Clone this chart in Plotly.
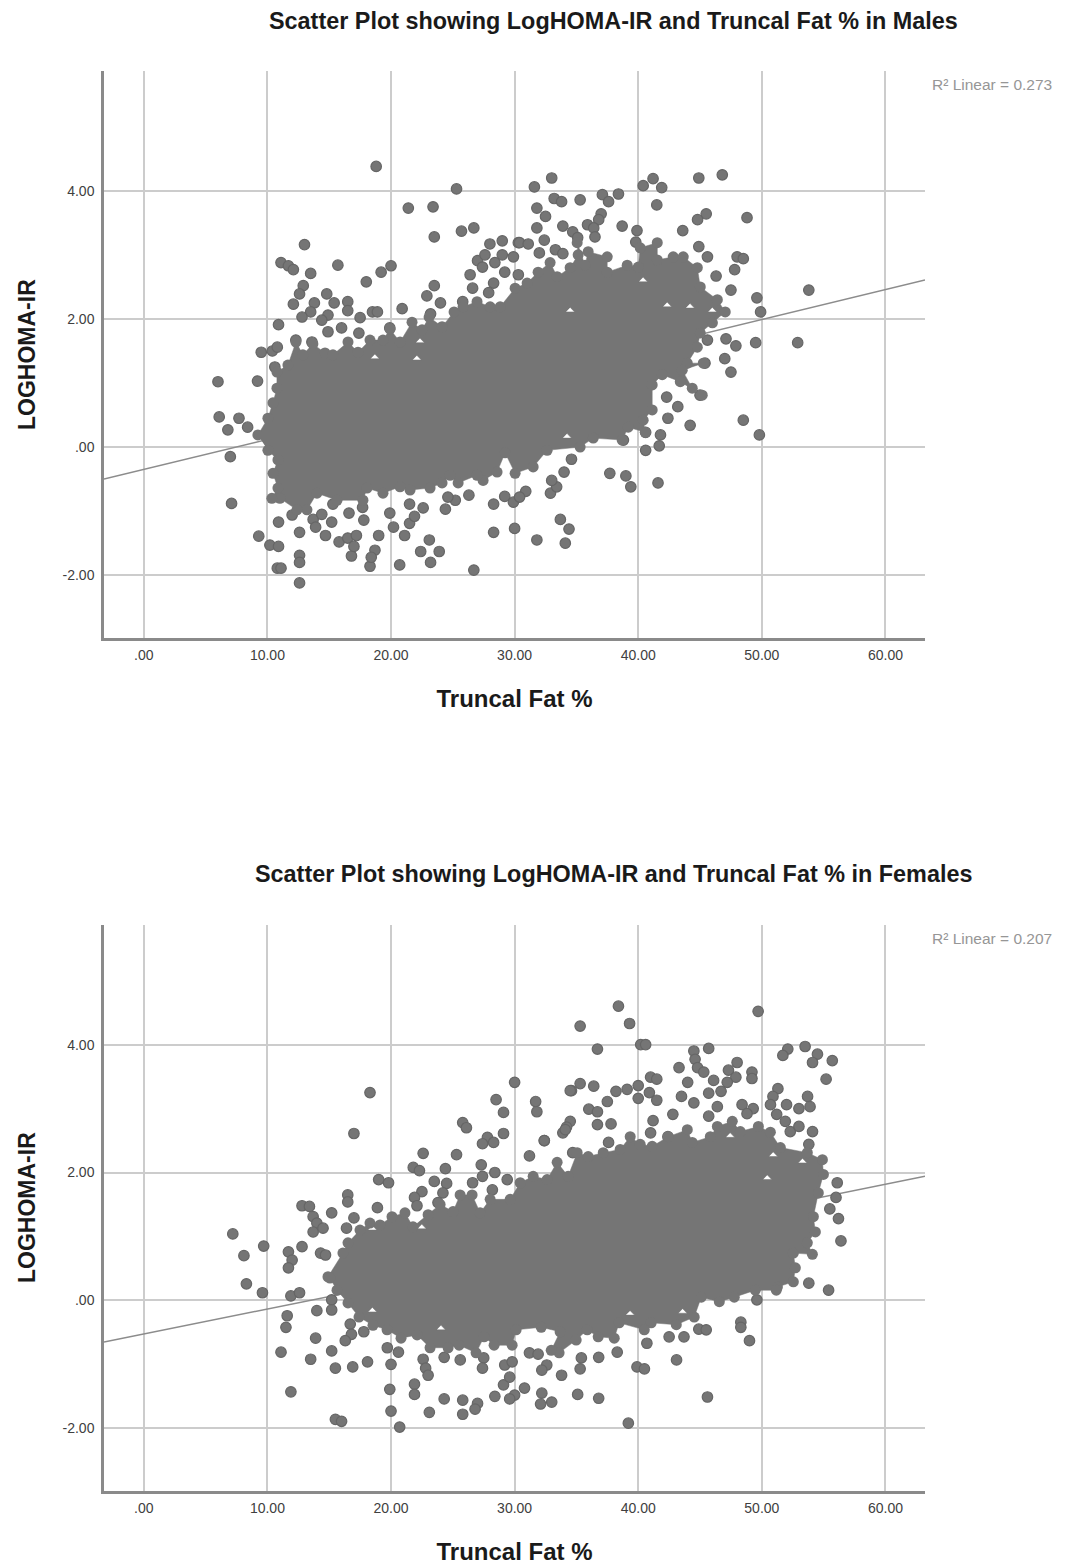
import plotly.graph_objects as go

male_region_x = [9.23,10.04,10.45,10.77,10.77,11.66,12.31,12.87,13.68,14.66,15.3,16.52,17.33,18.3,19.35,19.92,20.73,21.7,22.51,23.08,24.13,25.1,25.83,26.96,28.02,28.83,30.04,31.01,31.9,32.87,33.44,34.49,35.14,35.06,35.7,35.95,37.49,37.49,39.11,40,40.16,41.54,41.54,42.83,43.64,44.78,45.02,46.4,47.04,46,45.02,44.78,43.97,45.26,43.56,44.37,45.18,43.4,41.94,41.13,41.13,40.4,40.57,39.19,38.7,36.36,35.3,32.63,31.5,30.04,29.23,28.58,27.45,26.96,25.43,24.78,24.13,23.16,21.54,20.73,19.35,18.06,17.73,15.63,14.01,13.2,12.39,11.01,10.36,10.85,10.45,10.85,10.04]
male_region_y = [0.19,0.45,0.69,0.92,1.17,1.28,1.64,1.44,1.61,1.47,1.44,1.64,1.48,1.67,1.67,1.84,1.64,1.95,1.83,2.03,1.88,2.11,2.19,2.27,2.19,2.19,2.48,2.56,2.73,2.88,2.66,2.8,3.0,3.19,2.84,3.05,2.97,2.73,2.84,2.81,3.11,3.19,2.92,2.97,2.97,2.8,2.5,2.3,2.11,1.94,1.78,1.56,1.31,1.31,1.2,0.92,0.81,1.02,1.13,0.97,0.58,0.42,0.23,0.31,0.11,0.14,0.0,-0.05,-0.31,-0.41,-0.09,-0.39,-0.52,-0.44,-0.56,-0.44,-0.56,-0.64,-0.67,-0.62,-0.72,-0.64,-0.83,-0.83,-0.72,-0.98,-0.98,-0.8,-0.8,-0.64,-0.41,-0.2,-0.05]
male_gap_x = [22.35,18.7,22.1,42.35,44.2,34.5,40.4,46,34.25]
male_gap_y = [1.63,1.38,1.36,2.19,2.17,2.11,2.58,2.11,0.14]

male_x = [18.8,25.3,21.4,23.4,23.5,25.7,26.7,13.0,11.1,11.7,12.1,13.5,15.7,20,19.2,18,23.5,22.9,12.9,12.6,14.8,12.1,13.8,15.4,16.5,16.5,13.5,12.8,14.9,14.4,17.5,18.5,18.9,20.9,10.9,16,17.4,14.9,19.9,24,25.8,23.2,26.4,26.6,27,27.4,27.6,28,29,30.3,28.3,27.9,9.5,10.4,10.8,6.0,9.2,6.1,7.7,6.8,8.4,10.6,12.3,13.6,29,28.4,29.2,30.3,29.9,
33,31.6,33.2,33.8,35.3,31.8,32.5,31.8,32.4,30.4,31.1,32,33.3,33.9,37.1,37.6,38.4,40.4,41.2,41.9,41.5,44.9,46.8,48.8,45.5,44.8,43.6,38.7,39.9,37,36.8,35.9,33.9,34.7,35.1,36.4,36.5,39.8,44.9,45.6,46.3,47.8,48,48.5,47.5,49.6,49.9,53.8,47.1,47.9,49.5,52.9,47,47.5,45.6,48.5,49.8,44.2,45,42.4,43.2,42.3,45.4,40.6,38.8,
7,7.1,9.3,10.2,10.9,10.9,12.6,12,10.8,11.1,12.6,12.6,12.6,13.7,13.9,14.7,14.4,15.2,15.3,16.6,15.8,16.5,17.2,16.8,17,17.8,17.7,19,18.7,18.3,18.4,20.2,19.9,21.5,21.1,20.7,21.5,21.9,22.6,23.1,22.4,23.9,23.2,24.4,25.2,24.6,26.3,26.7,28.3,28.3,29.2,29.9,30.9,30.4,30,31.8,33.7,34.4,34.1,32.9,33.4,33,34,34.6,37.7,39,39.4,41.6,40.6,41.7,41.8]
male_y = [4.38,4.03,3.73,3.75,3.28,3.37,3.42,3.16,2.88,2.83,2.77,2.71,2.84,2.83,2.73,2.58,2.52,2.36,2.52,2.39,2.39,2.23,2.25,2.25,2.27,2.13,2.11,2.03,2.06,1.98,2.02,2.11,2.11,2.16,1.91,1.86,1.78,1.8,1.86,2.25,2.27,2.08,2.69,2.48,2.91,2.81,3.0,3.17,3.22,3.19,2.56,2.41,1.48,1.5,1.56,1.02,1.03,0.47,0.45,0.27,0.31,1.25,1.67,1.64,3.0,2.88,2.73,2.69,2.97,
4.2,4.06,3.88,3.83,3.86,3.73,3.6,3.42,3.23,3.19,3.17,3.03,3.08,3.02,3.94,3.83,3.95,4.08,4.19,4.05,3.78,4.2,4.25,3.58,3.64,3.55,3.38,3.45,3.38,3.64,3.55,3.47,3.45,3.36,3.27,3.42,3.28,3.2,3.13,2.97,2.67,2.77,2.97,2.94,2.45,2.33,2.11,2.45,1.69,1.58,1.63,1.63,1.38,1.17,1.67,0.42,0.19,0.34,0.81,0.45,0.63,0.78,1.31,0.23,0.11,
-0.15,-0.88,-1.39,-1.53,-1.55,-1.17,-1.33,-1.06,-1.89,-1.89,-1.69,-1.8,-2.12,-1.13,-1.25,-1.38,-1.05,-1.17,-0.89,-1.03,-1.48,-1.42,-1.38,-1.7,-1.55,-1.14,-0.94,-1.38,-1.61,-1.86,-1.72,-1.25,-1.03,-0.89,-1.38,-1.84,-1.19,-1.08,-0.95,-1.45,-1.63,-1.63,-1.8,-0.97,-0.83,-0.78,-0.75,-1.92,-0.89,-1.33,-0.77,-0.86,-0.69,-0.78,-1.27,-1.45,-1.13,-1.28,-1.5,-0.72,-0.62,-0.52,-0.39,-0.19,-0.41,-0.45,-0.62,-0.56,-0.05,0.02,0.19]

female_region_x = [14.9,16.11,16.52,17.49,18.3,19.11,20.08,21.13,21.78,23,23.97,25.02,25.59,26.56,27.21,28.02,29.64,30.45,31.5,32.63,33.44,34.33,35.06,35.95,37.17,38.54,39.35,40.16,41.13,42.43,43.97,44.37,45.83,46.4,47.61,48.26,49.72,50.69,51.5,53.68,54.9,54.98,54.57,54.17,54.33,53.68,54.09,52.55,52.71,52.55,51.26,51.17,49.47,47.77,46.56,45.1,44.53,43.08,41.05,40.49,38.46,38.06,36.76,35.87,34.98,33.6,32.96,33.68,32.15,30.12,29.8,28.34,27.53,26.88,25.51,24.62,23.16,22.11,20.81,19.68,18.54,17.41,16.52,15.63,15.06]
female_region_y = [0.37,0.74,0.9,1.1,1.21,1.18,1.31,1.37,1.15,1.34,1.5,1.39,1.65,1.65,1.37,1.58,1.58,1.84,1.94,1.89,2.16,1.94,2.31,2.25,2.31,2.36,2.56,2.44,2.41,2.56,2.67,2.47,2.56,2.72,2.8,2.64,2.72,2.63,2.39,2.31,2.2,1.97,1.68,1.31,1.07,0.9,0.72,0.74,0.51,0.29,0.21,0.16,0.16,0.05,-0.02,0.05,-0.26,-0.38,-0.35,-0.46,-0.35,-0.59,-0.57,-0.46,-0.62,-0.82,-0.78,-0.49,-0.42,-0.46,-0.7,-0.7,-0.57,-0.82,-0.7,-0.74,-0.74,-0.54,-0.59,-0.46,-0.39,-0.26,-0.04,0.16,0.35]
female_gap_x = [47.45,50.93,50.45,53.3,18.5,22.5,18.5,43.6,39.35,24.05]
female_gap_y = [2.55,2.25,1.89,2.15,1.1,1.12,-0.18,-0.2,-0.23,-0.46]

female_x = [38.4,35.3,39.3,49.7,36.7,40.2,40.6,45.7,44.5,44.6,44.8,43.3,45.3,46.1,48,47.3,47.9,47.2,46.7,45.7,49.2,49.2,52.1,51.7,53.5,54.5,54.1,55.7,55.2,51.3,50.9,50.7,51.2,51.9,52.3,53,54.1,52,53.7,53.9,53,53.8,56.1,56,55.5,56.2,56.4,53.8,55.4,34.6,35.3,36.4,37.5,38.2,39.1,40,41,41.5,40.9,40,41.5,36,36.7,36.7,37.8,41.2,34.5,33.9,34.2,32.4,34.7,37.6,44.5,44,43.5,48.4,49.3,48.8,46.4,45.7,42.8,42.4,41,
18.3,17,30,28.5,29.1,31.7,31.8,34.5,25.8,26.1,29.1,27.8,27.4,28.3,32.4,34.1,22.6,25.3,31.2,21.8,22.3,24.4,27.3,27.4,28.4,19,19.8,23.5,24.5,26.6,28.2,29.4,16.5,16.5,22.5,21.9,22.1,24.2,23.8,12.8,13.4,13.7,14,13.7,14.5,15.2,18.9,16.4,17,7.2,9.7,8.1,12.8,11.7,12,11.7,14.3,14.7,8.3,
9.6,11.9,12.6,15.2,11.6,11.5,14,15.2,13.9,11.1,13.5,15.2,15.5,16.9,18.1,11.9,15.5,16,16.7,16.8,16.3,17.8,19.7,20.6,20,19.9,20,20.7,21.9,21.9,23.1,22.6,22.8,23,24.3,25.8,25.8,27,26.8,24.3,25.6,27.5,27.4,28.4,29.1,29.6,29.2,29.8,30,29.6,30.8,32.2,32.1,33,31.2,31.9,32.6,32.2,33.8,35.1,36.8,35.4,35.3,36.8,38.3,39.2,39.9,40.5,40.7,42.5,43.1,43.7,44.9,45.5,45.6,48.3,48.3,49,49.6]
female_y = [4.6,4.29,4.33,4.52,3.93,4.0,4.0,3.94,3.9,3.77,3.64,3.64,3.57,3.44,3.72,3.6,3.49,3.41,3.27,3.24,3.57,3.47,3.93,3.83,3.97,3.85,3.72,3.75,3.46,3.31,3.19,3.06,2.91,2.8,2.64,2.72,2.64,3.06,3.19,3.03,3.0,2.44,1.84,1.61,1.43,1.28,0.93,0.27,0.16,3.28,3.39,3.35,3.11,3.27,3.3,3.36,3.49,3.46,3.25,3.16,3.13,2.99,2.95,2.75,2.76,2.81,2.8,2.62,2.71,2.5,2.31,2.47,3.09,3.41,3.19,3.06,3.0,2.92,3.03,2.88,2.91,2.56,2.62,
3.25,2.61,3.41,3.14,2.94,3.11,2.95,3.28,2.78,2.7,2.61,2.55,2.45,2.47,2.5,2.67,2.3,2.28,2.26,2.08,2.03,2.06,2.12,1.94,2.0,1.89,1.84,1.86,1.83,1.84,1.73,1.89,1.65,1.54,1.7,1.61,1.48,1.68,1.53,1.48,1.47,1.31,1.21,1.07,1.13,1.37,1.45,1.13,1.29,1.04,0.85,0.7,0.84,0.76,0.63,0.51,0.74,0.71,0.26,
0.12,0.07,0.12,0.01,-0.24,-0.42,-0.16,-0.15,-0.59,-0.81,-0.92,-0.79,-1.06,-1.04,-0.96,-1.43,-1.86,-1.89,-0.37,-0.53,-0.63,-0.49,-0.74,-0.81,-1.0,-1.39,-1.73,-1.98,-1.31,-1.47,-1.75,-0.92,-1.06,-1.17,-1.54,-1.56,-1.78,-1.61,-1.7,-0.89,-0.93,-0.9,-1.06,-1.5,-1.32,-1.2,-1.01,-0.96,-1.48,-1.54,-1.37,-1.45,-1.62,-1.59,-0.82,-0.84,-1.01,-1.09,-1.17,-1.47,-1.53,-0.9,-1.07,-0.89,-0.81,-1.92,-1.04,-1.07,-0.67,-0.57,-0.93,-0.57,-0.45,-0.46,-1.51,-0.34,-0.42,-0.63,0.01]

fit_x = [-3.22, 63.2]
male_fit_y = [-0.5, 2.61]
female_fit_y = [-0.65, 1.94]
x_ticks = [0, 10, 20, 30, 40, 50, 60]
x_labels = [".00", "10.00", "20.00", "30.00", "40.00", "50.00", "60.00"]
y_ticks = [-2, 0, 2, 4]
y_labels = ["-2.00", ".00", "2.00", "4.00"]
titles = ["Scatter Plot showing LogHOMA-IR and Truncal Fat % in Males",
          "Scatter Plot showing LogHOMA-IR and Truncal Fat % in Females"]
r2_labels = ["R² Linear = 0.273", "R² Linear = 0.207"]

W, H = 1073, 1566
FONT = "Liberation Sans"
DOT = "#757575"
EDGE = "#666666"

fig = go.Figure()


def with_gaps(rx, ry, gx, gy):
    """Outer outline followed by small reversed loops, which stay unfilled."""
    xs, ys = list(rx), list(ry)
    for a, b in zip(gx, gy):
        xs += [None, a - 0.35, a + 0.35, a]
        ys += [None, b, b, b + 0.07]
    return xs, ys


def add_panel(suffix, fit_y, rx, ry, gx, gy, px, py):
    kw = dict(xaxis="x" + suffix, yaxis="y" + suffix, showlegend=False, hoverinfo="skip")
    fig.add_trace(go.Scatter(x=fit_x, y=fit_y, mode="lines", line=dict(color="#8c8c8c", width=1.5), **kw))
    fig.add_trace(go.Scatter(x=px, y=py, mode="markers",
                             marker=dict(size=10.5, color=DOT, line=dict(color=EDGE, width=1.2)), **kw))
    fx, fy = with_gaps(rx, ry, gx, gy)
    fig.add_trace(go.Scatter(x=fx, y=fy, mode="lines", fill="toself", fillcolor=DOT,
                             line=dict(color=DOT, width=0.5), **kw))
    fig.add_trace(go.Scatter(x=rx, y=ry, mode="markers",
                             marker=dict(size=11, color=DOT, line=dict(color=DOT, width=0)), **kw))


add_panel("", male_fit_y, male_region_x, male_region_y, male_gap_x, male_gap_y, male_x, male_y)
add_panel("2", female_fit_y, female_region_x, female_region_y, female_gap_x, female_gap_y, female_x, female_y)

axis_common = dict(showgrid=True, gridcolor="#cccccc", gridwidth=2, zeroline=False, showline=True,
                   linecolor="#8a8a8a", linewidth=2.5, ticks="",
                   tickfont=dict(family=FONT, size=14, color="#404040"))
title_font = dict(family=FONT, size=24, color="#1a1a1a", weight="bold")
x_dom = [104 / W, 925 / W]

fig.update_layout(
    width=W, height=H, margin=dict(l=0, r=0, t=0, b=0),
    paper_bgcolor="white", plot_bgcolor="white", showlegend=False,
    xaxis=dict(domain=x_dom, range=[-3.22, 63.2], tickvals=x_ticks, ticktext=x_labels, anchor="y", ticklabelstandoff=2,
               title=dict(text="Truncal Fat %", font=title_font, standoff=29), **axis_common),
    yaxis=dict(domain=[1 - 638 / H, 1 - 71 / H], range=[-2.98, 5.87], tickvals=y_ticks, ticktext=y_labels, anchor="x",
               ticklabelstandoff=4, **axis_common),
    xaxis2=dict(domain=x_dom, range=[-3.22, 63.2], tickvals=x_ticks, ticktext=x_labels, anchor="y2", ticklabelstandoff=2,
                title=dict(text="Truncal Fat %", font=title_font, standoff=29), **axis_common),
    yaxis2=dict(domain=[1 - 1491 / H, 1 - 925 / H], range=[-2.98, 5.87], tickvals=y_ticks, ticktext=y_labels, anchor="x2",
                ticklabelstandoff=4, **axis_common),
)

for cx, cy, t in [(613.5, 21, titles[0]), (613, 874, titles[1])]:
    fig.add_annotation(text=t, xref="paper", yref="paper", x=cx / W, y=1 - cy / H, showarrow=False,
                       xanchor="center", yanchor="middle", font=dict(family=FONT, size=23.4, color="#1a1a1a", weight="bold"))
for cy, t in [(85, r2_labels[0]), (938, r2_labels[1])]:
    fig.add_annotation(text=t, xref="paper", yref="paper", x=930 / W, y=1 - cy / H, showarrow=False,
                       xanchor="left", yanchor="middle", font=dict(family=FONT, size=15.5, color="#969696"))
for cy in (355, 1208):
    fig.add_annotation(text="LOGHOMA-IR", xref="paper", yref="paper", x=27 / W, y=1 - cy / H, showarrow=False,
                       textangle=-90, xanchor="center", yanchor="middle",
                       font=dict(family=FONT, size=23, color="#1a1a1a", weight="bold"))

fig.write_html("out.html", config={"displayModeBar": False}, post_script="document.body.style.margin='0';")
